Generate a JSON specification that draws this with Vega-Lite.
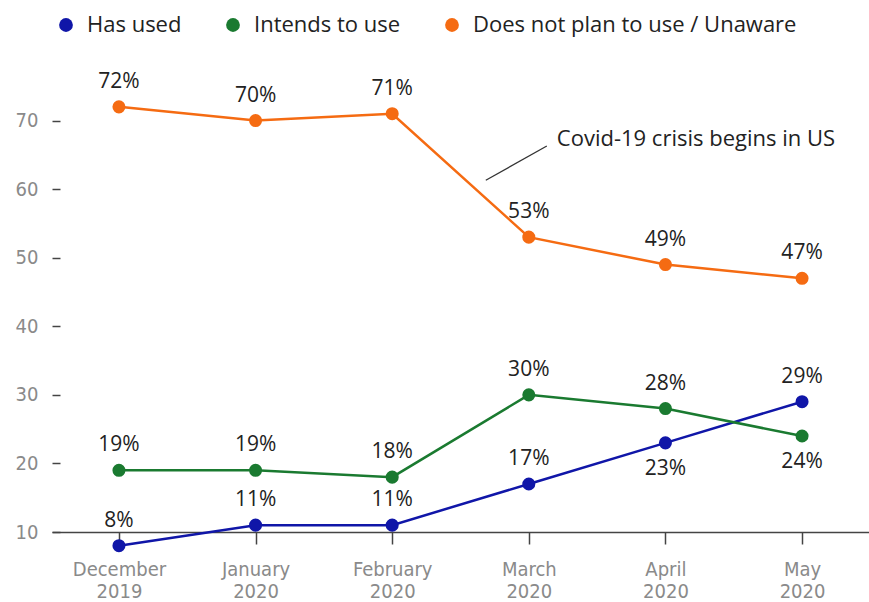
{
  "$schema": "https://vega.github.io/schema/vega-lite/v6.json",
  "width": 817,
  "height": 480,
  "autosize": {"type": "none"},
  "padding": {"left": 52, "top": 52, "right": 0, "bottom": 70},
  "background": "white",
  "config": {"view": {"stroke": null}, "font": "Open Sans"},
  "datasets": {
    "main": [
      {"month": "December 2019", "series": "Has used", "value": 8},
      {"month": "January 2020", "series": "Has used", "value": 11},
      {"month": "February 2020", "series": "Has used", "value": 11},
      {"month": "March 2020", "series": "Has used", "value": 17},
      {"month": "April 2020", "series": "Has used", "value": 23},
      {"month": "May 2020", "series": "Has used", "value": 29},
      {"month": "December 2019", "series": "Intends to use", "value": 19},
      {"month": "January 2020", "series": "Intends to use", "value": 19},
      {"month": "February 2020", "series": "Intends to use", "value": 18},
      {"month": "March 2020", "series": "Intends to use", "value": 30},
      {"month": "April 2020", "series": "Intends to use", "value": 28},
      {"month": "May 2020", "series": "Intends to use", "value": 24},
      {"month": "December 2019", "series": "Does not plan to use / Unaware", "value": 72},
      {"month": "January 2020", "series": "Does not plan to use / Unaware", "value": 70},
      {"month": "February 2020", "series": "Does not plan to use / Unaware", "value": 71},
      {"month": "March 2020", "series": "Does not plan to use / Unaware", "value": 53},
      {"month": "April 2020", "series": "Does not plan to use / Unaware", "value": 49},
      {"month": "May 2020", "series": "Does not plan to use / Unaware", "value": 47}
    ],
    "note": [
      {"month": "March 2020", "y1": 61.3, "y2": 66.3, "y3": 67.3, "text": "Covid-19 crisis begins in US"}
    ]
  },
  "encoding": {
    "x": {
      "field": "month", "type": "ordinal", "sort": null,
      "scale": {"type": "point", "padding": 0.49},
      "axis": {
        "title": null, "labelAngle": 0,
        "labelExpr": "split(datum.label, ' ')",
        "labelFont": "DejaVu Sans Condensed", "labelFontSize": 20, "labelColor": "#8a8a8a",
        "labelLineHeight": 22, "labelPadding": 15,
        "domainColor": "#444", "domainWidth": 1.5,
        "tickColor": "#444", "tickSize": 12, "tickWidth": 1.5
      }
    }
  },
  "layer": [
    {
      "data": {"name": "main"},
      "mark": {"type": "line", "strokeWidth": 2.5},
      "encoding": {
        "y": {
          "field": "value", "type": "quantitative",
          "scale": {"domain": [10, 80], "nice": false, "zero": false},
          "axis": {
            "title": null, "values": [10, 20, 30, 40, 50, 60, 70],
            "domain": false, "grid": false,
            "labelFont": "DejaVu Sans Condensed", "labelFontSize": 20, "labelColor": "#8a8a8a",
            "tickColor": "#444", "tickSize": 8, "tickWidth": 1.5,
            "labelPadding": 14, "offset": -8
          }
        },
        "color": {
          "field": "series", "type": "nominal",
          "scale": {
            "domain": ["Has used", "Intends to use", "Does not plan to use / Unaware"],
            "range": ["#1016a8", "#1a7a30", "#f56b12"]
          },
          "legend": {
            "title": null, "orient": "none", "direction": "horizontal",
            "legendX": 3, "legendY": -38,
            "symbolType": "circle", "symbolSize": 190, "symbolFillOpacity": 1, "symbolStrokeWidth": 0,
            "labelFont": "Open Sans", "labelFontSize": 22, "labelColor": "#222", "labelLimit": 500,
            "columnPadding": 40, "labelOffset": 10
          }
        }
      }
    },
    {
      "data": {"name": "main"},
      "mark": {"type": "point", "filled": true, "opacity": 1, "size": 170},
      "encoding": {
        "y": {"field": "value", "type": "quantitative"},
        "color": {"field": "series", "type": "nominal"}
      }
    },
    {
      "data": {"name": "main"},
      "transform": [
        {"filter": "!((datum.series == 'Has used' && datum.month == 'April 2020') || (datum.series == 'Intends to use' && datum.month == 'May 2020'))"},
        {"calculate": "datum.value + '%'", "as": "label"}
      ],
      "mark": {"type": "text", "dy": -25, "fontSize": 21, "color": "#222"},
      "encoding": {
        "y": {"field": "value", "type": "quantitative"},
        "text": {"field": "label"}
      }
    },
    {
      "data": {"name": "main"},
      "transform": [
        {"filter": "(datum.series == 'Has used' && datum.month == 'April 2020') || (datum.series == 'Intends to use' && datum.month == 'May 2020')"},
        {"calculate": "datum.value + '%'", "as": "label"}
      ],
      "mark": {"type": "text", "dy": 26, "fontSize": 21, "color": "#222"},
      "encoding": {
        "y": {"field": "value", "type": "quantitative"},
        "text": {"field": "label"}
      }
    },
    {
      "data": {"name": "note"},
      "mark": {"type": "rule", "color": "#333", "strokeWidth": 1.3, "xOffset": -43, "x2Offset": 18},
      "encoding": {
        "y": {"field": "y1", "type": "quantitative"},
        "y2": {"field": "y2"},
        "x2": {"field": "month"}
      }
    },
    {
      "data": {"name": "note"},
      "mark": {"type": "text", "align": "left", "baseline": "middle", "dx": 28, "fontSize": 22, "color": "#222"},
      "encoding": {
        "y": {"field": "y3", "type": "quantitative"},
        "text": {"field": "text"}
      }
    }
  ]
}
